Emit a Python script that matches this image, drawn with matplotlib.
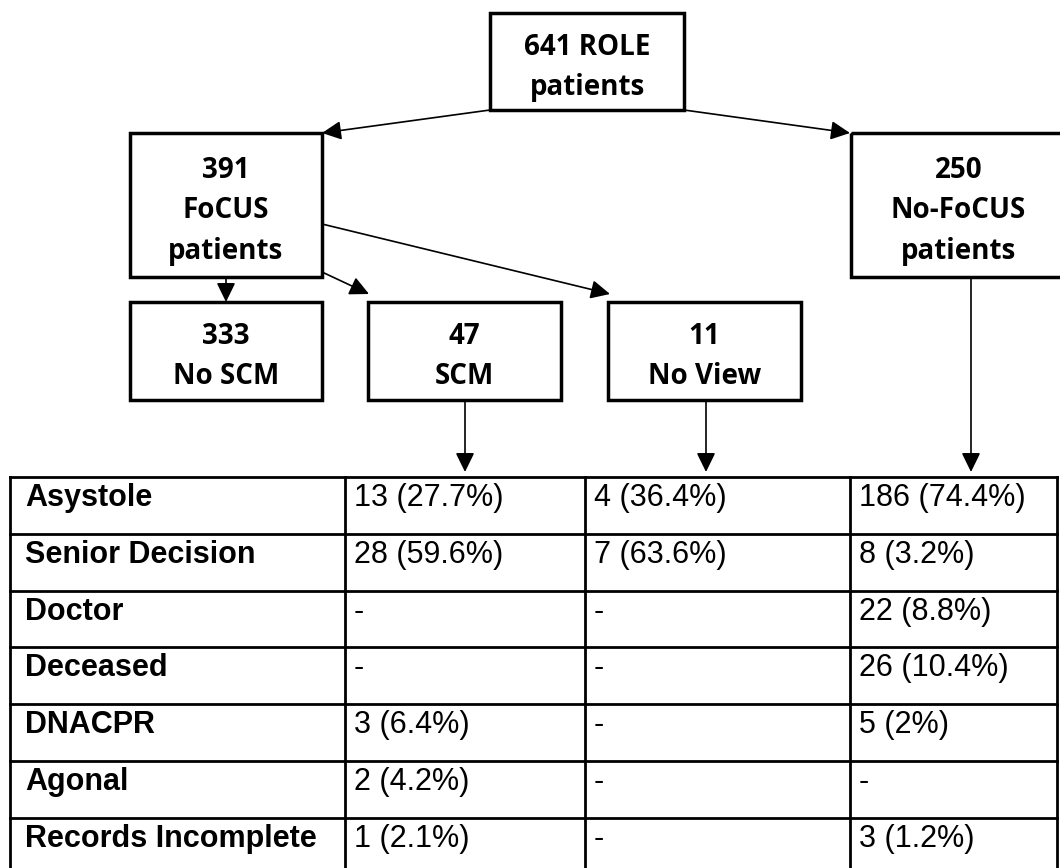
import matplotlib
matplotlib.use("Agg")
import matplotlib.pyplot as plt
from matplotlib.patches import Rectangle, FancyArrowPatch

# ---------------- data ----------------
box_labels = {
    "role": "641 ROLE\npatients",
    "focus": "391\nFoCUS\npatients",
    "nofocus": "250\nNo-FoCUS\npatients",
    "noscm": "333\nNo SCM",
    "scm": "47\nSCM",
    "noview": "11\nNo View",
}
row_labels = ["Asystole", "Senior Decision", "Doctor", "Deceased",
              "DNACPR", "Agonal", "Records Incomplete"]
scm_values = ["13 (27.7%)", "28 (59.6%)", "-", "-", "3 (6.4%)", "2 (4.2%)", "1 (2.1%)"]
noview_values = ["4 (36.4%)", "7 (63.6%)", "-", "-", "-", "-", "-"]
nofocus_values = ["186 (74.4%)", "8 (3.2%)", "22 (8.8%)", "26 (10.4%)", "5 (2%)", "-", "3 (1.2%)"]

# ---------------- layout (pixel space) ----------------
W, H = 1060, 868
fig = plt.figure(figsize=(W / 100, H / 100), dpi=100)
ax = fig.add_axes([0, 0, 1, 1])
ax.set_xlim(0, W)
ax.set_ylim(H, 0)
ax.axis("off")

boxes = {
    "role": (490, 13, 194, 97),
    "focus": (130, 133, 192, 144),
    "nofocus": (851, 133, 215, 144),
    "noscm": (130, 302, 192, 98),
    "scm": (368, 302, 193, 98),
    "noview": (608, 302, 193, 98),
}
box_font = dict(family=["Open Sans", "DejaVu Sans"], fontweight="bold", fontsize=20)

for key, (x, y, w, h) in boxes.items():
    ax.add_patch(Rectangle((x, y), w, h, fill=False, edgecolor="black", lw=2.5, zorder=2))
    ax.text(x + w / 2, y + h / 2 + 6, box_labels[key], ha="center", va="center",
            linespacing=1.5, color="black", **box_font)


def arrow(p0, p1):
    a = FancyArrowPatch(p0, p1, arrowstyle="-|>,head_length=0.45,head_width=0.22",
                        mutation_scale=26, lw=1.2, color="black",
                        shrinkA=0, shrinkB=0, zorder=3)
    ax.add_patch(a)


arrow((490, 110), (322, 133))
arrow((684, 110), (850, 133))
arrow((226, 277), (226, 302))
arrow((322, 272), (369, 294))
arrow((322, 224), (610, 294))
arrow((465, 400), (465, 472))
arrow((706, 400), (706, 472))
arrow((971, 277), (971, 472))

# ---------------- table ----------------
col_edges = [10, 345, 585, 850, 1057]
row_top = 477
row_h = 56.8
n_rows = len(row_labels)
table_bottom = row_top + row_h * n_rows

tlw = 2.0
for i in range(n_rows + 1):
    yy = row_top + i * row_h
    ax.plot([col_edges[0], col_edges[-1]], [yy, yy], color="black", lw=tlw,
            solid_capstyle="projecting", zorder=2)
for xx in col_edges:
    ax.plot([xx, xx], [row_top, table_bottom], color="black", lw=tlw,
            solid_capstyle="projecting", zorder=2)

tfont = dict(family=["Liberation Sans", "DejaVu Sans"], fontsize=22)
columns = [scm_values, noview_values, nofocus_values]
for i, lab in enumerate(row_labels):
    yb = row_top + i * row_h + 29
    ax.text(col_edges[0] + 15, yb, lab, ha="left", va="baseline",
            fontweight="bold", **tfont)
    for j, vals in enumerate(columns):
        ax.text(col_edges[j + 1] + 9, yb, vals[i], ha="left", va="baseline", **tfont)

fig.savefig("out.png", dpi=100, facecolor="white")
